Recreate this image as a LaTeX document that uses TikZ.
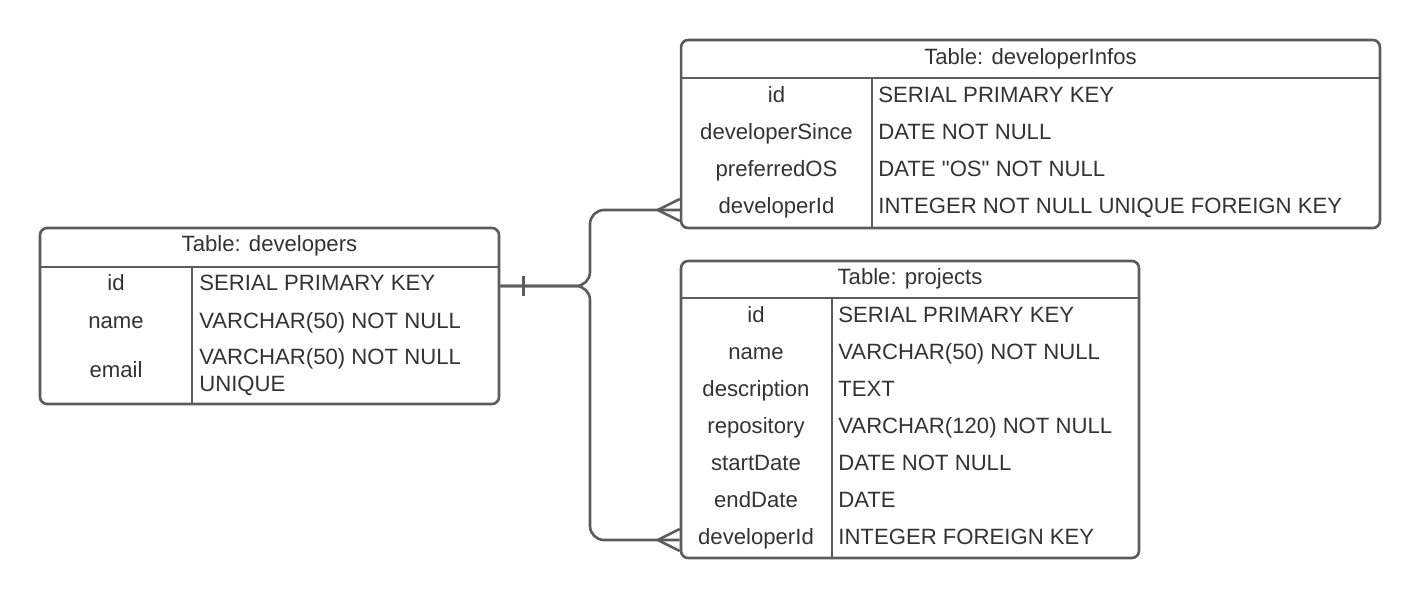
\documentclass[tikz,border=0pt]{standalone}
\usepackage{fontspec}
\setmainfont{Liberation Sans}[Ligatures=TeXOff]
\usepackage{xcolor}
\usetikzlibrary{arrows.meta,positioning,calc}
\definecolor{egray}{RGB}{92,92,92}
\definecolor{etext}{RGB}{51,51,51}

\begin{document}
\begin{tikzpicture}[
  x=0.02cm,y=-0.02cm,
  font=\fontsize{12.6pt}{15pt}\selectfont,
  tbl/.style={draw=egray,line width=1.5pt,rounded corners=4pt,inner sep=0pt},
  ln/.style={egray,line width=1.5pt},
  txt/.style={text=etext,inner sep=0pt},
  fk/.style={txt,anchor=center,text height=9pt,text depth=0pt},
  ty/.style={fk,anchor=west},
  tyml/.style={txt,anchor=west,align=left},
  ]
  \useasboundingbox (0,0) rectangle (1420,599);
  % table frames
  \node[tbl,minimum width=9.18cm,minimum height=3.52cm]  (dev)  at (269.5,316)  {};
  \node[tbl,minimum width=13.98cm,minimum height=3.76cm] (info) at (1030.5,134) {};
  \node[tbl,minimum width=9.16cm,minimum height=5.94cm]  (proj) at (910,409.5)  {};
  % header rules and column rules
  \draw[ln] (40,267) -- (499,267);
  \draw[ln] (192,267) -- (192,404);
  \draw[ln] (681,78) -- (1380,78);
  \draw[ln] (872,78) -- (872,228);
  \draw[ln] (681,298) -- (1139,298);
  \draw[ln] (832,298) -- (832,558);
  % developers
  \node[fk] (devh)  at (269.5,244) {Table: developers};
  \node[fk] (devid) at (116,283) {id};
  \node[fk] (devnm) at (116,321) {name};
  \node[fk] (devem) at (116,370) {email};
  \node[ty] (devidt) at (199,283) {SERIAL PRIMARY KEY};
  \node[ty] (devnmt) at (199,321) {VARCHAR(50) NOT NULL};
  \node[tyml] (devemt) at (199,372) {VARCHAR(50) NOT NULL\\UNIQUE};
  % developerInfos
  \node[fk] (infoh)  at (1030.5,57) {Table: developerInfos};
  \node[fk] (infoid) at (776.5,95)  {id};
  \node[fk] (infods) at (776.5,132) {developerSince};
  \node[fk] (infoos) at (776.5,169) {preferredOS};
  \node[fk] (infodv) at (776.5,206) {developerId};
  \node[ty] (infoidt) at (878,95)  {SERIAL PRIMARY KEY};
  \node[ty] (infodst) at (878,132) {DATE NOT NULL};
  \node[ty] (infoost) at (878,169) {DATE "OS" NOT NULL};
  \node[ty] (infodvt) at (878,206) {INTEGER NOT NULL UNIQUE FOREIGN KEY};
  % projects
  \node[fk] (projh)  at (910,277) {Table: projects};
  \node[fk] (projid) at (756,315) {id};
  \node[fk] (projnm) at (756,352) {name};
  \node[fk] (projds) at (756,389) {description};
  \node[fk] (projrp) at (756,426) {repository};
  \node[fk] (projsd) at (756,463) {startDate};
  \node[fk] (projed) at (756,500) {endDate};
  \node[fk] (projdv) at (756,537) {developerId};
  \node[ty] (projidt) at (838,315) {SERIAL PRIMARY KEY};
  \node[ty] (projnmt) at (838,352) {VARCHAR(50) NOT NULL};
  \node[ty] (projdst) at (838,389) {TEXT};
  \node[ty] (projrpt) at (838,426) {VARCHAR(120) NOT NULL};
  \node[ty] (projsdt) at (838,463) {DATE NOT NULL};
  \node[ty] (projedt) at (838,500) {DATE};
  \node[ty] (projdvt) at (838,537) {INTEGER FOREIGN KEY};
  % relations
  \coordinate (devout) at (dev.east |- 0,286);
  \coordinate (infoin) at (info.west |- 0,210);
  \coordinate (projin) at (proj.west |- 0,540);
  \draw[ln,rounded corners=8pt] (devout) -- (590,286) |- (infoin);
  \draw[ln,rounded corners=8pt] (devout) -- (590,286) |- (projin);
  \draw[ln] ($(devout)+(23,-10)$) -- ++(0,20);
  \draw[ln] ($(infoin)+(0,-11)$) -- ++(-22,11) -- ++(22,11);
  \draw[ln] ($(projin)+(0,-11)$) -- ++(-22,11) -- ++(22,11);
\end{tikzpicture}
\end{document}
